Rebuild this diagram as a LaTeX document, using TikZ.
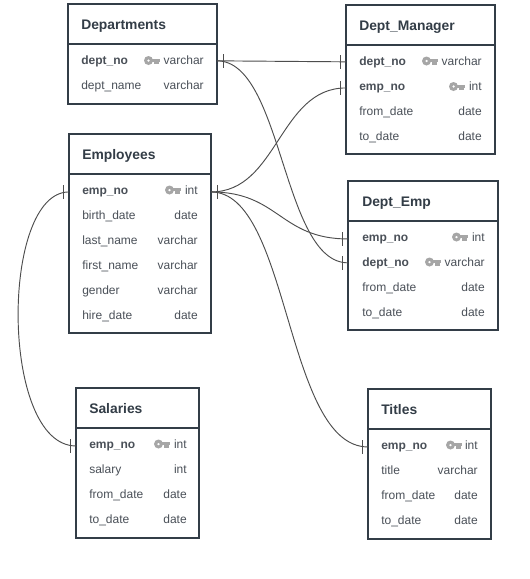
\documentclass[tikz,border=0pt]{standalone}
\usepackage{fontspec}
\setmainfont{Liberation Sans}
\definecolor{edgeC}{HTML}{333D47}
\definecolor{titleC}{HTML}{333D47}
\definecolor{rowC}{HTML}{4A5058}
\definecolor{keyC}{HTML}{A6A6A6}
\definecolor{lineC}{HTML}{4D4D4D}
\tikzset{
  tablebox/.style={draw=edgeC,line width=1.5pt,inner sep=0pt,outer sep=0pt,anchor=north west},
  headrule/.style={draw=edgeC,line width=1.5pt},
  titletext/.style={font=\fontsize{10.4pt}{12pt}\bfseries,text=titleC,anchor=base west,inner sep=0pt},
  rowname/.style={font=\fontsize{9pt}{11pt}\selectfont,text=rowC,anchor=base west,inner sep=0pt,yshift=0.4pt},
  keyname/.style={rowname,font=\fontsize{9pt}{11pt}\bfseries},
  rowtype/.style={rowname,anchor=base east},
  conn/.style={draw=lineC,line width=0.7pt},
  tick/.style={draw=lineC,line width=0.75pt},
}
% key icon: right end at #1, vertical centre at #2
\newcommand{\keyicon}[2]{%
  \begin{scope}[shift={(#1,#2)}]
    \fill[keyC,even odd rule] (-11.5,0) circle[radius=4.5] (-11.5,0) circle[radius=1.5];
    \fill[keyC] (-8.5,-1.8) rectangle (0,1.4);
    \fill[keyC] (-6,0) rectangle (-1,3.8);
  \end{scope}}
% box: name, left, top, right, bottom, header y, title x, title baseline
\newcommand{\tablebox}[8]{%
  \pgfmathsetmacro{\boxw}{(#4-#2)*0.75}\pgfmathsetmacro{\boxh}{(#5-#3)*0.75}%
  \node[tablebox,minimum width=\boxw pt,minimum height=\boxh pt] (#1) at (#2,#3) {};
  \coordinate (#1-hl) at (#2,#6);
  \coordinate (#1-hr) at (#4,#6);
  \draw[headrule] (#1-hl) -- (#1-hr);
  \node[titletext] (#1-title) at (#7,#8) {\csname tt#1\endcsname};}
% row: id, name style, name, x, baseline, type, right x
\newcommand{\tablerow}[7]{%
  \node[#2] (#1) at (#4,#5) {#3};
  \node[rowtype] (#1-type) at (#7,#5) {#6};}
% tick mark 6px out from an edge point; #1 = point, #2 = direction sign
\newcommand{\edgetick}[2]{\draw[tick] ([xshift=#2*4.5pt,yshift=5pt]#1) -- ([xshift=#2*4.5pt,yshift=-5pt]#1);}
\newcommand{\ttdep}{Departments}
\newcommand{\ttemp}{Employees}
\newcommand{\ttmgr}{Dept\_Manager}
\newcommand{\ttde}{Dept\_Emp}
\newcommand{\ttsal}{Salaries}
\newcommand{\tttit}{Titles}
\begin{document}
\begin{tikzpicture}[x=0.75pt,y=-0.75pt]
\useasboundingbox (0,0) rectangle (530,579);
\fill[white] (0,0) rectangle (530,579);
% Departments
\tablebox{dep}{68}{4}{217}{104}{43.5}{81}{29}
\tablerow{dep1}{keyname}{dept\_no}{81}{65}{varchar}{204}
\tablerow{dep2}{rowname}{dept\_name}{81}{90}{varchar}{204}
\keyicon{160}{60.5}
% Employees
\tablebox{emp}{69}{134}{211}{333}{174}{82}{159}
\tablerow{emp1}{keyname}{emp\_no}{82}{195}{int}{198}
\tablerow{emp2}{rowname}{birth\_date}{82}{220}{date}{198}
\tablerow{emp3}{rowname}{last\_name}{82}{245}{varchar}{198}
\tablerow{emp4}{rowname}{first\_name}{82}{270}{varchar}{198}
\tablerow{emp5}{rowname}{gender}{82}{295}{varchar}{198}
\tablerow{emp6}{rowname}{hire\_date}{82}{320}{date}{198}
\keyicon{181}{190}
% Dept_Manager
\tablebox{mgr}{346}{5}{495}{154}{44.5}{359}{30}
\tablerow{mgr1}{keyname}{dept\_no}{359}{66}{varchar}{482}
\tablerow{mgr2}{keyname}{emp\_no}{359}{91}{int}{482}
\tablerow{mgr3}{rowname}{from\_date}{359}{116}{date}{482}
\tablerow{mgr4}{rowname}{to\_date}{359}{141}{date}{482}
\keyicon{438}{61}
\keyicon{465}{86.5}
% Dept_Emp
\tablebox{de}{348}{181}{498}{330}{220.5}{362}{206}
\tablerow{de1}{keyname}{emp\_no}{362}{242}{int}{485}
\tablerow{de2}{keyname}{dept\_no}{362}{267}{varchar}{485}
\tablerow{de3}{rowname}{from\_date}{362}{292}{date}{485}
\tablerow{de4}{rowname}{to\_date}{362}{317}{date}{485}
\keyicon{468}{237}
\keyicon{441}{262}
% Salaries
\tablebox{sal}{76}{388}{199}{538}{428}{89}{413}
\tablerow{sal1}{keyname}{emp\_no}{89}{449}{int}{187}
\tablerow{sal2}{rowname}{salary}{89}{474}{int}{187}
\tablerow{sal3}{rowname}{from\_date}{89}{499}{date}{187}
\tablerow{sal4}{rowname}{to\_date}{89}{524}{date}{187}
\keyicon{170}{444}
% Titles
\tablebox{tit}{368}{389}{491}{539}{429}{381}{414}
\tablerow{tit1}{keyname}{emp\_no}{381}{450}{int}{478}
\tablerow{tit2}{rowname}{title}{381}{475}{varchar}{478}
\tablerow{tit3}{rowname}{from\_date}{381}{500}{date}{478}
\tablerow{tit4}{rowname}{to\_date}{381}{525}{date}{478}
\keyicon{462}{445}
% connector ends on the box edges
\coordinate (depR) at ([yshift=0.4pt]dep.east |- dep1.center);
\coordinate (empR) at ([yshift=0.4pt]emp.east |- emp1.center);
\coordinate (empL) at ([yshift=0.4pt]emp.west |- emp1.center);
\coordinate (mgrA) at ([yshift=0.4pt]mgr.west |- mgr1.center);
\coordinate (mgrB) at ([yshift=0.4pt]mgr.west |- mgr2.center);
\coordinate (deA) at ([yshift=0.4pt]de.west |- de1.center);
\coordinate (deB) at ([yshift=0.4pt]de.west |- de2.center);
\coordinate (salA) at ([yshift=0.4pt]sal.west |- sal1.center);
\coordinate (titA) at ([yshift=0.4pt]tit.west |- tit1.center);
% connectors
\draw[conn] (depR) -- (mgrA);
\draw[conn] (depR) .. controls +(66,0) and +(-66,0) .. (deB);
\draw[conn] (empR) .. controls +(67,0) and +(-67,0) .. (mgrB);
\draw[conn] (empR) .. controls +(68,0) and +(-68,0) .. (deA);
\draw[conn] (empR) .. controls +(79,0) and +(-83,0) .. (titA);
\draw[conn] (empL) .. controls +(-69,0) and +(-76,0) .. (salA);
% ticks
\edgetick{depR}{1}
\edgetick{empR}{1}
\edgetick{empL}{-1}
\edgetick{mgrA}{-1}
\edgetick{mgrB}{-1}
\edgetick{deA}{-1}
\edgetick{deB}{-1}
\edgetick{salA}{-1}
\edgetick{titA}{-1}
\end{tikzpicture}
\end{document}
